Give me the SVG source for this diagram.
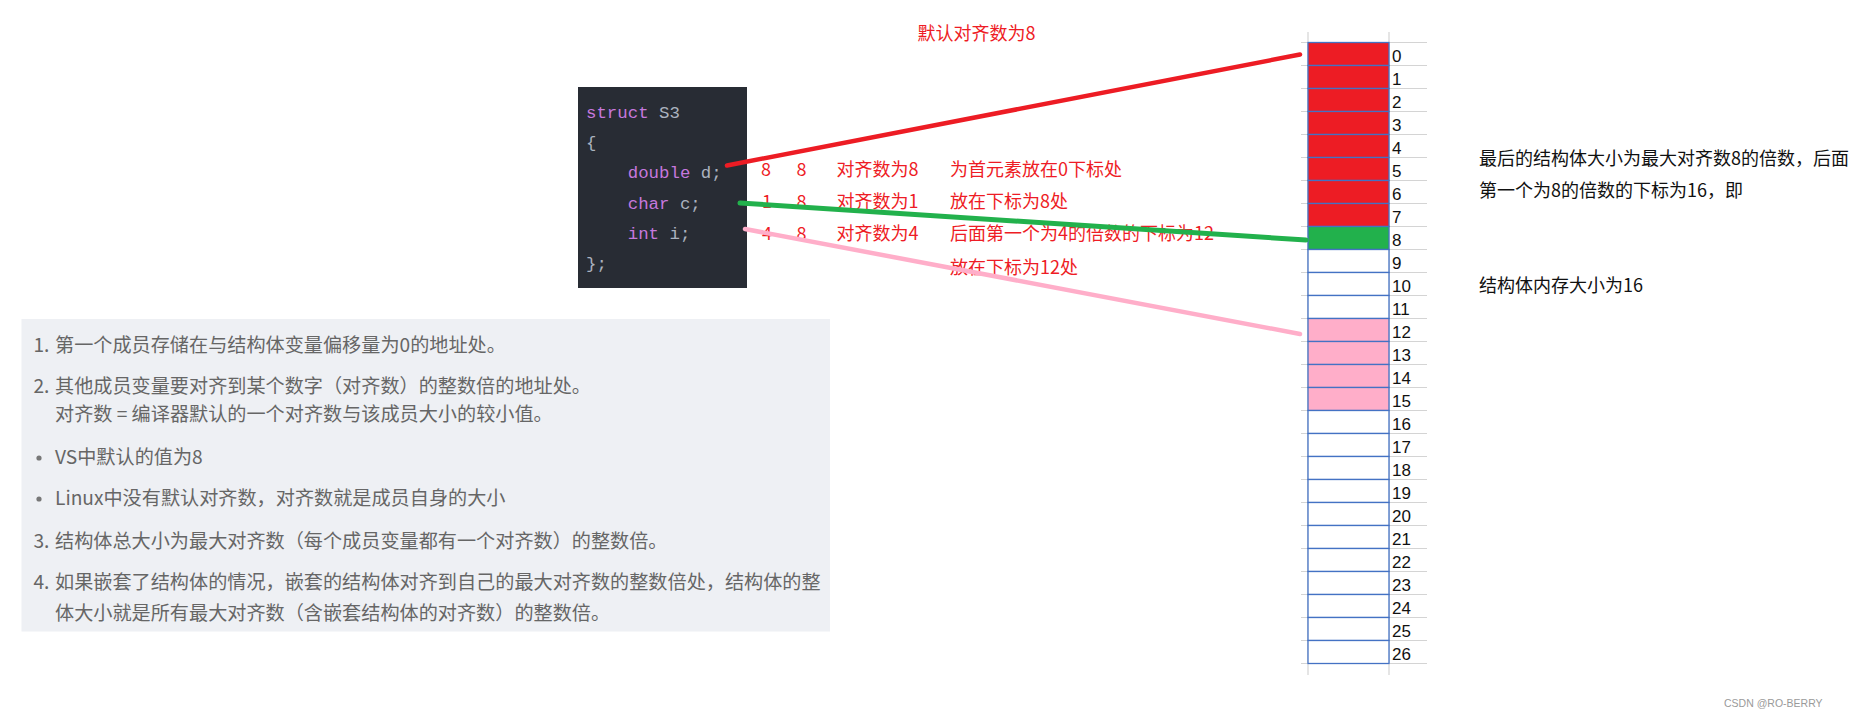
<svg xmlns="http://www.w3.org/2000/svg" width="1856" height="720" viewBox="0 0 1856 720">
<style>
.code{font-family:"Liberation Mono","DejaVu Sans Mono",monospace;font-size:17.4px;fill:#abb2bf;white-space:pre}
.kw{fill:#c678dd}
.red{font-family:"Noto Sans CJK SC",sans-serif;font-size:18px;fill:#ee1c25}
.blk{font-family:"Noto Sans CJK SC",sans-serif;font-size:18px;fill:#111}
.lst{font-family:"Noto Sans CJK SC",sans-serif;font-size:19.15px;fill:#666666}
.num{font-family:"Liberation Sans","Noto Sans CJK SC",sans-serif;font-size:17px;fill:#111}
.grid{stroke:#d4d4d4;stroke-width:1.2}
.cell{stroke:#4472c4;stroke-width:1.3}
.conn{fill:none;stroke-linecap:round}
</style>
<rect width="1856" height="720" fill="#ffffff"/>

<g id="title">
<text class="red" x="917.5" y="40">默认对齐数为8</text>
</g>

<g id="code-block">
<rect x="578" y="87" width="169" height="201" fill="#282c34"/>
<text class="code" x="586" y="118"><tspan class="kw">struct</tspan> S3</text>
<text class="code" x="586" y="148">{</text>
<text class="code" x="586" y="178">    <tspan class="kw">double</tspan> d;</text>
<text class="code" x="586" y="209">    <tspan class="kw">char</tspan> c;</text>
<text class="code" x="586" y="239">    <tspan class="kw">int</tspan> i;</text>
<text class="code" x="586" y="269">};</text>
</g>

<g id="annotations">
<text class="red" x="761" y="176">8</text>
<text class="red" x="796.5" y="176">8</text>
<text class="red" x="836.5" y="176">对齐数为8</text>
<text class="red" x="950" y="176">为首元素放在0下标处</text>
<text class="red" x="762" y="208">1</text>
<text class="red" x="796.5" y="208">8</text>
<text class="red" x="836.5" y="208">对齐数为1</text>
<text class="red" x="950" y="208">放在下标为8处</text>
<text class="red" x="762" y="240">4</text>
<text class="red" x="796.5" y="240">8</text>
<text class="red" x="836.5" y="240">对齐数为4</text>
<text class="red" x="950" y="240">后面第一个为4的倍数的下标为12</text>
<text class="red" x="950" y="274">放在下标为12处</text>
</g>

<g id="rules-box">
<rect x="21.5" y="319" width="808.5" height="312.5" fill="#eef0f4"/>
<text class="lst" x="33.5" y="352">1.</text>
<text class="lst" x="55" y="352">第一个成员存储在与结构体变量偏移量为0的地址处。</text>
<text class="lst" x="33.5" y="393">2.</text>
<text class="lst" x="55" y="393">其他成员变量要对齐到某个数字（对齐数）的整数倍的地址处。</text>
<text class="lst" x="55" y="421">对齐数 = 编译器默认的一个对齐数与该成员大小的较小值。</text>
<circle cx="39" cy="458" r="2.6" fill="#777777"/>
<text class="lst" x="55" y="464">VS中默认的值为8</text>
<circle cx="39" cy="499" r="2.6" fill="#777777"/>
<text class="lst" x="55" y="505">Linux中没有默认对齐数，对齐数就是成员自身的大小</text>
<text class="lst" x="33.5" y="548">3.</text>
<text class="lst" x="55" y="548">结构体总大小为最大对齐数（每个成员变量都有一个对齐数）的整数倍。</text>
<text class="lst" x="33.5" y="589">4.</text>
<text class="lst" x="55" y="589">如果嵌套了结构体的情况，嵌套的结构体对齐到自己的最大对齐数的整数倍处，结构体的整</text>
<text class="lst" x="55" y="620">体大小就是所有最大对齐数（含嵌套结构体的对齐数）的整数倍。</text>
</g>

<g id="memory-grid">
<g class="grid">
<line x1="1308" y1="32" x2="1308" y2="675"/>
<line x1="1389" y1="32" x2="1389" y2="675"/>
<line x1="1301" y1="42.5" x2="1427" y2="42.5"/>
<line x1="1301" y1="65.5" x2="1427" y2="65.5"/>
<line x1="1301" y1="88.5" x2="1427" y2="88.5"/>
<line x1="1301" y1="111.5" x2="1427" y2="111.5"/>
<line x1="1301" y1="134.5" x2="1427" y2="134.5"/>
<line x1="1301" y1="157.5" x2="1427" y2="157.5"/>
<line x1="1301" y1="180.5" x2="1427" y2="180.5"/>
<line x1="1301" y1="203.5" x2="1427" y2="203.5"/>
<line x1="1301" y1="226.5" x2="1427" y2="226.5"/>
<line x1="1301" y1="249.5" x2="1427" y2="249.5"/>
<line x1="1301" y1="272.5" x2="1427" y2="272.5"/>
<line x1="1301" y1="295.5" x2="1427" y2="295.5"/>
<line x1="1301" y1="318.5" x2="1427" y2="318.5"/>
<line x1="1301" y1="341.5" x2="1427" y2="341.5"/>
<line x1="1301" y1="364.5" x2="1427" y2="364.5"/>
<line x1="1301" y1="387.5" x2="1427" y2="387.5"/>
<line x1="1301" y1="410.5" x2="1427" y2="410.5"/>
<line x1="1301" y1="433.5" x2="1427" y2="433.5"/>
<line x1="1301" y1="456.5" x2="1427" y2="456.5"/>
<line x1="1301" y1="479.5" x2="1427" y2="479.5"/>
<line x1="1301" y1="502.5" x2="1427" y2="502.5"/>
<line x1="1301" y1="525.5" x2="1427" y2="525.5"/>
<line x1="1301" y1="548.5" x2="1427" y2="548.5"/>
<line x1="1301" y1="571.5" x2="1427" y2="571.5"/>
<line x1="1301" y1="594.5" x2="1427" y2="594.5"/>
<line x1="1301" y1="617.5" x2="1427" y2="617.5"/>
<line x1="1301" y1="640.5" x2="1427" y2="640.5"/>
<line x1="1301" y1="663.5" x2="1427" y2="663.5"/>
</g>
<g class="cell">
<rect x="1308" y="42.5" width="81" height="23" fill="#ed1c24"/>
<rect x="1308" y="65.5" width="81" height="23" fill="#ed1c24"/>
<rect x="1308" y="88.5" width="81" height="23" fill="#ed1c24"/>
<rect x="1308" y="111.5" width="81" height="23" fill="#ed1c24"/>
<rect x="1308" y="134.5" width="81" height="23" fill="#ed1c24"/>
<rect x="1308" y="157.5" width="81" height="23" fill="#ed1c24"/>
<rect x="1308" y="180.5" width="81" height="23" fill="#ed1c24"/>
<rect x="1308" y="203.5" width="81" height="23" fill="#ed1c24"/>
<rect x="1308" y="226.5" width="81" height="23" fill="#22b14c"/>
<rect x="1308" y="249.5" width="81" height="23" fill="#ffffff"/>
<rect x="1308" y="272.5" width="81" height="23" fill="#ffffff"/>
<rect x="1308" y="295.5" width="81" height="23" fill="#ffffff"/>
<rect x="1308" y="318.5" width="81" height="23" fill="#ffaec9"/>
<rect x="1308" y="341.5" width="81" height="23" fill="#ffaec9"/>
<rect x="1308" y="364.5" width="81" height="23" fill="#ffaec9"/>
<rect x="1308" y="387.5" width="81" height="23" fill="#ffaec9"/>
<rect x="1308" y="410.5" width="81" height="23" fill="#ffffff"/>
<rect x="1308" y="433.5" width="81" height="23" fill="#ffffff"/>
<rect x="1308" y="456.5" width="81" height="23" fill="#ffffff"/>
<rect x="1308" y="479.5" width="81" height="23" fill="#ffffff"/>
<rect x="1308" y="502.5" width="81" height="23" fill="#ffffff"/>
<rect x="1308" y="525.5" width="81" height="23" fill="#ffffff"/>
<rect x="1308" y="548.5" width="81" height="23" fill="#ffffff"/>
<rect x="1308" y="571.5" width="81" height="23" fill="#ffffff"/>
<rect x="1308" y="594.5" width="81" height="23" fill="#ffffff"/>
<rect x="1308" y="617.5" width="81" height="23" fill="#ffffff"/>
<rect x="1308" y="640.5" width="81" height="23" fill="#ffffff"/>
</g>
<g class="num">
<text x="1392" y="62">0</text>
<text x="1392" y="85">1</text>
<text x="1392" y="108">2</text>
<text x="1392" y="131">3</text>
<text x="1392" y="154">4</text>
<text x="1392" y="177">5</text>
<text x="1392" y="200">6</text>
<text x="1392" y="223">7</text>
<text x="1392" y="246">8</text>
<text x="1392" y="269">9</text>
<text x="1392" y="292">10</text>
<text x="1392" y="315">11</text>
<text x="1392" y="338">12</text>
<text x="1392" y="361">13</text>
<text x="1392" y="384">14</text>
<text x="1392" y="407">15</text>
<text x="1392" y="430">16</text>
<text x="1392" y="453">17</text>
<text x="1392" y="476">18</text>
<text x="1392" y="499">19</text>
<text x="1392" y="522">20</text>
<text x="1392" y="545">21</text>
<text x="1392" y="568">22</text>
<text x="1392" y="591">23</text>
<text x="1392" y="614">24</text>
<text x="1392" y="637">25</text>
<text x="1392" y="660">26</text>
</g>
</g>

<g id="conclusion">
<text class="blk" x="1479" y="165">最后的结构体大小为最大对齐数8的倍数，后面</text>
<text class="blk" x="1479" y="197">第一个为8的倍数的下标为16，即</text>
<text class="blk" x="1479" y="292">结构体内存大小为16</text>
</g>

<g id="connectors">
<line class="conn" x1="727" y1="165.5" x2="1300" y2="54.5" stroke="#ed1c24" stroke-width="4.5"/>
<line class="conn" x1="740" y1="203" x2="1306" y2="240" stroke="#22b14c" stroke-width="5"/>
<line class="conn" x1="745" y1="229" x2="1300" y2="334" stroke="#ffaec9" stroke-width="4.5"/>
</g>

<g id="watermark">
<text x="1724" y="707" font-family="Liberation Sans, sans-serif" font-size="10.5" fill="#9a9a9a">CSDN @RO-BERRY</text>
</g>
</svg>
